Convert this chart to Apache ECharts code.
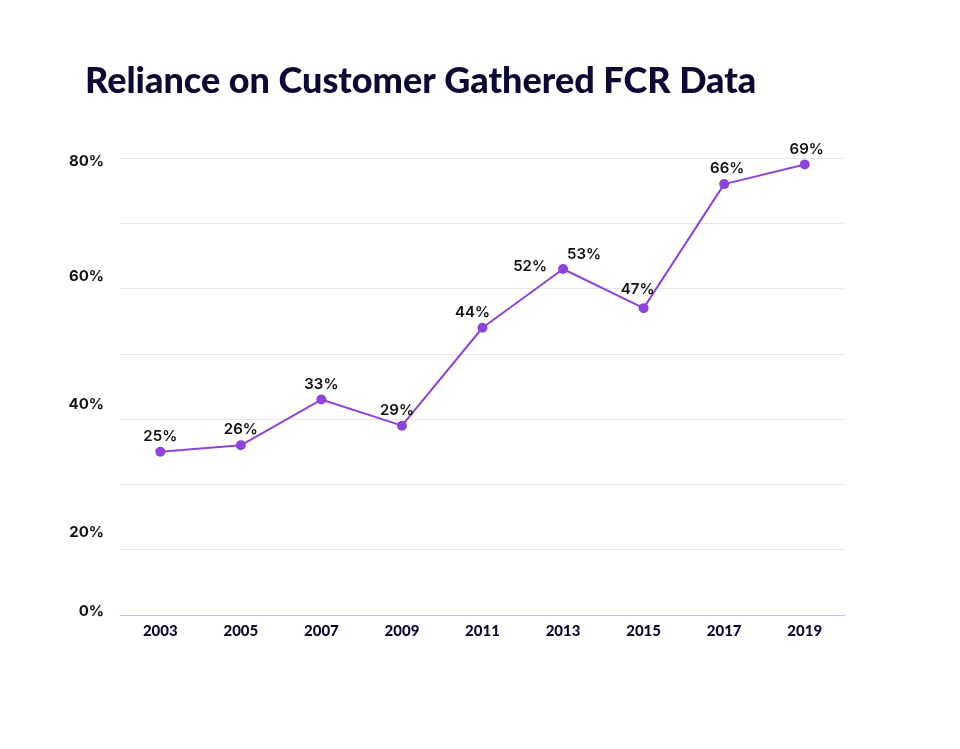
<!DOCTYPE html>
<html>
<head>
<meta charset="utf-8">
<script src="https://cdn.jsdelivr.net/npm/echarts@6/dist/echarts.min.js"></script>
<style>html,body{margin:0;padding:0;background:#fff}#c{width:960px;height:749px}</style>
</head>
<body>
<div id="c"></div>
<script>
var titleText = 'Reliance on Customer Gathered FCR Data';
var years = ['2003','2005','2007','2009','2011','2013','2015','2017','2019'];
var values = [25, 26, 33, 29, 44, 53, 47, 66, 69];
var extraLabelYear = '2013';
var extraLabelValue = 52;
var yTickLabels = ['0%', '20%', '40%', '60%', '80%'];
var yTickValues = [0.6, 12.6, 32.2, 51.9, 69.4];

var labelOffsets = {4: [-10, 0], 5: [21, 1], 6: [-6, -3], 3: [-5, 0], 7: [3, 0], 8: [2, 0]};
var lineData = values.map(function (v, i) {
  var item = {value: v};
  if (labelOffsets[i]) item.label = {offset: labelOffsets[i]};
  return item;
});

var labelFont = {fontFamily: 'Inter', fontWeight: 600, fontSize: 15, color: '#111111'};

var chart = echarts.init(document.getElementById('c'));
chart.setOption({
  backgroundColor: '#ffffff',
  title: {
    text: titleText,
    left: 80, top: 58,
    textStyle: {fontFamily: 'Lato', fontWeight: 900, fontSize: 36, color: '#0c0a33'}
  },
  grid: {left: 120, right: 115, top: 158, bottom: 134, containLabel: false},
  xAxis: {
    type: 'category',
    data: years,
    boundaryGap: true,
    axisLine: {lineStyle: {color: '#c6c2d6', width: 1}},
    axisTick: {show: false},
    axisLabel: {margin: 9, fontFamily: 'Lato', fontWeight: 900, fontSize: 15, color: '#0c0a33'}
  },
  yAxis: [{
    type: 'value', min: 0, max: 70, interval: 10,
    axisLine: {show: false}, axisTick: {show: false},
    axisLabel: {show: false},
    splitLine: {lineStyle: {color: '#e6e6e6', width: 1}}
  }, {
    type: 'value', min: 0, max: 70, position: 'left',
    axisLine: {show: false}, axisTick: {show: false},
    splitLine: {show: false},
    axisLabel: {
      customValues: yTickValues,
      margin: 16,
      fontFamily: 'Inter', fontWeight: 'bold', fontSize: 15, color: '#111111',
      formatter: function (v) {
        var best = 0, d = 1e9;
        for (var i = 0; i < yTickValues.length; i++) {
          var dd = Math.abs(yTickValues[i] - v);
          if (dd < d) { d = dd; best = i; }
        }
        return yTickLabels[best];
      }
    }
  }],
  series: [{
    type: 'line',
    data: lineData,
    yAxisIndex: 0,
    symbol: 'circle', symbolSize: 10,
    lineStyle: {color: '#8e44d8', width: 2},
    itemStyle: {color: '#8e44d8'},
    label: Object.assign({show: true, position: 'top', distance: 3, formatter: '{c}%'}, labelFont),
    animation: false
  }, {
    type: 'scatter',
    yAxisIndex: 0,
    data: [[extraLabelYear, extraLabelValue]],
    symbolSize: 0,
    silent: true,
    itemStyle: {opacity: 1, color: '#8e44d8'},
    label: Object.assign({show: true, position: 'inside', offset: [-33, -9],
      formatter: function (p) { return p.value[1] + '%'; }}, labelFont),
    animation: false
  }]
});
</script>
</body>
</html>
